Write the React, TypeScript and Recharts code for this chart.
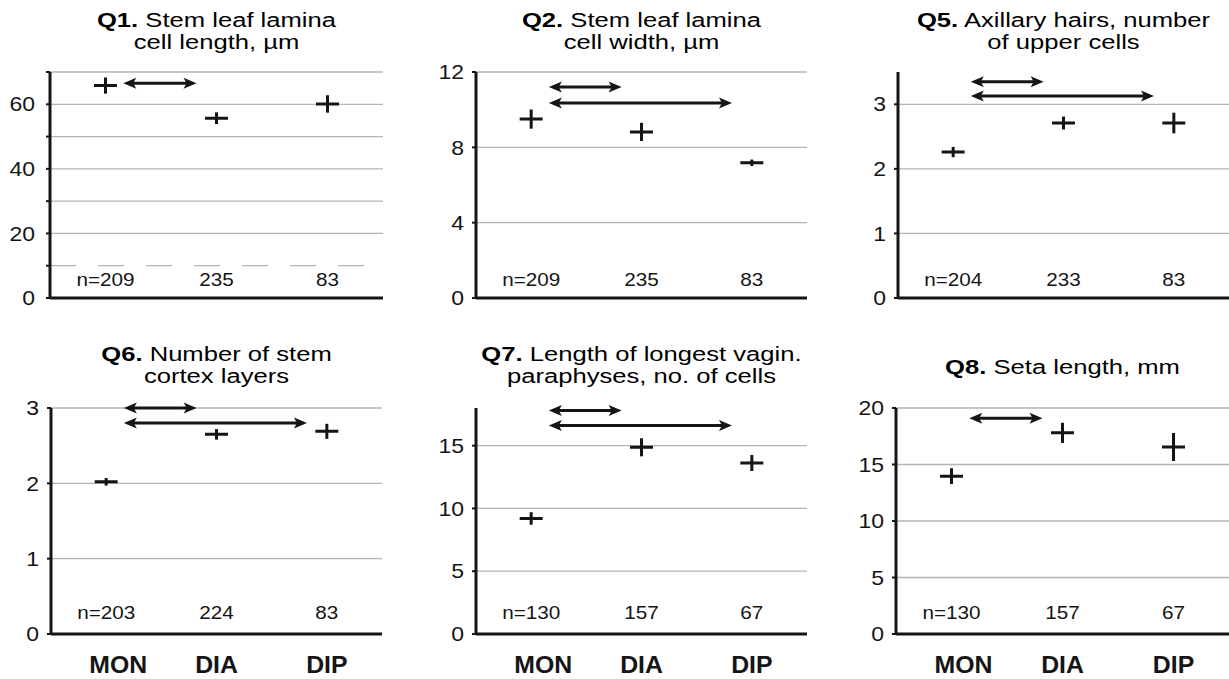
import {
  CartesianGrid,
  ErrorBar,
  ReferenceLine,
  Scatter,
  ScatterChart,
  XAxis,
  YAxis,
} from "recharts";

const FONT = '"Liberation Sans", Arial, Helvetica, sans-serif';
const INK = "#151515";
const GRID = "#b5b5b5";

// groups on the x axis, placed at 1, 2, 3
const groups = ["MON", "DIA", "DIP"];
const groupPos = [1, 2, 3];

type Arrow = { from: number; to: number; y: number };

// Q1 stem leaf lamina cell length
const q1Means = [65.8, 55.7, 60.1];
const q1Ci = [2.5, 1.8, 2.7];
const q1N = ["n=209", "235", "83"];
const q1Arrows: Arrow[] = [{ from: 0, to: 1, y: 66.5 }];
const q1Ticks = [0, 10, 20, 30, 40, 50, 60, 70];
const q1Labels = [0, 20, 40, 60];
const q1Grid = [20, 30, 40, 50, 60, 70];
const q1Dashed = [10];

// Q2 stem leaf lamina cell width
const q2Means = [9.5, 8.82, 7.18];
const q2Ci = [0.51, 0.48, 0.17];
const q2N = ["n=209", "235", "83"];
const q2Arrows: Arrow[] = [
  { from: 0, to: 1, y: 11.2 },
  { from: 0, to: 2, y: 10.35 },
];
const q2Ticks = [0, 4, 8, 12];
const q2Grid = [4, 8, 12];

// Q5 axillary hairs, number of upper cells
const q5Means = [2.26, 2.71, 2.71];
const q5Ci = [0.08, 0.1, 0.16];
const q5N = ["n=204", "233", "83"];
const q5Arrows: Arrow[] = [
  { from: 0, to: 1, y: 3.35 },
  { from: 0, to: 2, y: 3.13 },
];
const q5Ticks = [0, 1, 2, 3];
const q5Grid = [1, 2, 3];

// Q6 number of stem cortex layers
const q6Means = [2.02, 2.65, 2.69];
const q6Ci = [0.05, 0.07, 0.1];
const q6N = ["n=203", "224", "83"];
const q6Arrows: Arrow[] = [
  { from: 0, to: 1, y: 3.0 },
  { from: 0, to: 2, y: 2.8 },
];
const q6Ticks = [0, 1, 2, 3];
const q6Grid = [1, 2, 3];

// Q7 length of longest vaginula paraphyses
const q7Means = [9.2, 14.87, 13.62];
const q7Ci = [0.5, 0.72, 0.64];
const q7N = ["n=130", "157", "67"];
const q7Arrows: Arrow[] = [
  { from: 0, to: 1, y: 17.8 },
  { from: 0, to: 2, y: 16.6 },
];
const q7Ticks = [0, 5, 10, 15];
const q7Grid = [5, 10, 15];

// Q8 seta length
const q8Means = [13.97, 17.8, 16.55];
const q8Ci = [0.7, 0.89, 1.24];
const q8N = ["n=130", "157", "67"];
const q8Arrows: Arrow[] = [{ from: 0, to: 1, y: 19.1 }];
const q8Ticks = [0, 5, 10, 15, 20];
const q8Grid = [5, 10, 15, 20];

const Y_AXIS_W = 50;
const PLOT_H = 226;

function arrowShape(p: any) {
  const { x1, y1, x2, y2 } = p;
  const hl = 13;
  const hw = 5.5;
  return (
    <g>
      <line x1={x1 + 6} y1={y1} x2={x2 - 6} y2={y2} stroke={INK} strokeWidth={3} />
      <polygon
        points={`${x1},${y1} ${x1 + hl},${y1 - hw} ${x1 + hl - 3},${y1} ${x1 + hl},${y1 + hw}`}
        fill={INK}
      />
      <polygon
        points={`${x2},${y2} ${x2 - hl},${y2 - hw} ${x2 - hl + 3},${y2} ${x2 - hl},${y2 + hw}`}
        fill={INK}
      />
    </g>
  );
}

function crossBar(p: any) {
  return (
    <line
      x1={p.cx - 11.5}
      x2={p.cx + 11.5}
      y1={p.cy}
      y2={p.cy}
      stroke={INK}
      strokeWidth={3}
    />
  );
}

type PanelProps = {
  head: string;
  lines: string[];
  left: number;
  top: number;
  right: number;
  titleTop: number;
  means: number[];
  ci: number[];
  nLabels: string[];
  arrows: Arrow[];
  domain: [number, number];
  ticks: number[];
  labels?: number[];
  grid: number[];
  dashed?: number[];
  bottomRow: boolean;
  labelGap?: number;
};

function Panel(props: PanelProps) {
  const {
    head,
    lines,
    left,
    top,
    right,
    titleTop,
    means,
    ci,
    nLabels,
    arrows,
    domain,
    ticks,
    labels = ticks,
    grid,
    dashed = [],
    bottomRow,
    labelGap = 8,
  } = props;
  const data = groupPos.map((x, i) => ({ x, y: means[i], ci: ci[i] }));
  const xh = bottomRow ? 45 : 18;
  const nLift = bottomRow ? 15 : 12;
  const width = Y_AXIS_W + (right - left);
  const height = 10 + PLOT_H + xh;

  const xTick = (p: any) => {
    const i = groupPos.indexOf(p.payload.value);
    return (
      <g>
        <text
          transform={`translate(${p.x},${p.y - nLift}) scale(1.15,1)`}
          textAnchor="middle"
          fontSize={18}
          fill={INK}
          fontFamily={FONT}
        >
          {nLabels[i]}
        </text>
        {bottomRow && (
          <text
            transform={`translate(${p.x + (i === 0 ? 12 : 0)},${p.y + 39}) scale(1.08,1)`}
            textAnchor="middle"
            fontSize={23}
            fontWeight="bold"
            fill={INK}
            fontFamily={FONT}
          >
            {groups[i]}
          </text>
        )}
      </g>
    );
  };

  const yTick = (p: any) =>
    labels.includes(p.payload.value) ? (
      <text
        transform={`translate(${p.x},${p.y}) scale(1.15,1)`}
        textAnchor="end"
        dy="0.36em"
        fontSize={20}
        fill={INK}
        fontFamily={FONT}
      >
        {p.payload.value}
      </text>
    ) : (
      <g />
    );

  return (
    <>
      <div style={{ position: "absolute", left: left - Y_AXIS_W, top: top - 10 }}>
        <ScatterChart
          width={width}
          height={height}
          margin={{ top: 10, right: 0, bottom: 0, left: 0 }}
        >
          <CartesianGrid
            vertical={false}
            horizontalValues={grid}
            stroke={GRID}
            strokeWidth={1.3}
          />
          {dashed.map((v) => (
            <ReferenceLine
              key={`d${v}`}
              y={v}
              stroke={GRID}
              strokeWidth={1.3}
              strokeDasharray="26 22"
            />
          ))}
          <XAxis
            type="number"
            dataKey="x"
            domain={[0.5, 3.5]}
            ticks={groupPos}
            interval={0}
            tickSize={0}
            tickMargin={0}
            tickLine={false}
            axisLine={{ stroke: INK, strokeWidth: 3 }}
            tick={xTick}
            height={xh}
          />
          <YAxis
            type="number"
            dataKey="y"
            domain={domain}
            allowDataOverflow
            ticks={ticks}
            interval={0}
            tickSize={4}
            tickMargin={labelGap}
            tickLine={{ stroke: INK, strokeWidth: 2 }}
            axisLine={{ stroke: INK, strokeWidth: 3 }}
            tick={yTick}
            width={Y_AXIS_W}
          />
          {arrows.map((a, k) => (
            <ReferenceLine
              key={`a${k}`}
              segment={[
                { x: groupPos[a.from] + 0.16, y: a.y },
                { x: groupPos[a.to] - 0.18, y: a.y },
              ]}
              shape={arrowShape}
            />
          ))}
          <Scatter data={data} shape={crossBar} isAnimationActive={false}>
            <ErrorBar
              dataKey="ci"
              direction="y"
              width={0}
              stroke={INK}
              strokeWidth={3}
              isAnimationActive={false}
            />
          </Scatter>
        </ScatterChart>
      </div>
      <div
        style={{
          position: "absolute",
          left,
          top: titleTop,
          width: right - left,
          textAlign: "center",
          fontFamily: FONT,
          fontSize: 20,
          lineHeight: "21.5px",
          color: "#000",
          transform: "scaleX(1.28)",
          transformOrigin: "center",
          whiteSpace: "nowrap",
        }}
      >
        <b>{head}</b> {lines[0]}
        {lines[1] && (
          <>
            <br />
            {lines[1]}
          </>
        )}
      </div>
    </>
  );
}

export default function App() {
  return (
    <div
      style={{
        position: "absolute",
        left: 0,
        top: 0,
        width: 1229,
        height: 679,
        overflow: "hidden",
        background: "#fff",
      }}
    >
      <Panel
        head="Q1."
        lines={["Stem leaf lamina", "cell length, µm"]}
        left={50}
        top={72}
        right={383}
        titleTop={10}
        means={q1Means}
        ci={q1Ci}
        nLabels={q1N}
        arrows={q1Arrows}
        domain={[0, 70]}
        ticks={q1Ticks}
        labels={q1Labels}
        grid={q1Grid}
        dashed={q1Dashed}
        bottomRow={false}
        labelGap={11}
      />
      <Panel
        head="Q2."
        lines={["Stem leaf lamina", "cell width, µm"]}
        left={476}
        top={72}
        right={807}
        titleTop={10}
        means={q2Means}
        ci={q2Ci}
        nLabels={q2N}
        arrows={q2Arrows}
        domain={[0, 12]}
        ticks={q2Ticks}
        grid={q2Grid}
        bottomRow={false}
      />
      <Panel
        head="Q5."
        lines={["Axillary hairs, number", "of upper cells"]}
        left={898}
        top={72}
        right={1229}
        titleTop={10}
        means={q5Means}
        ci={q5Ci}
        nLabels={q5N}
        arrows={q5Arrows}
        domain={[0, 3.5]}
        ticks={q5Ticks}
        grid={q5Grid}
        bottomRow={false}
      />
      <Panel
        head="Q6."
        lines={["Number of stem", "cortex layers"]}
        left={51}
        top={408}
        right={382}
        titleTop={344}
        means={q6Means}
        ci={q6Ci}
        nLabels={q6N}
        arrows={q6Arrows}
        domain={[0, 3]}
        ticks={q6Ticks}
        grid={q6Grid}
        bottomRow
      />
      <Panel
        head="Q7."
        lines={["Length of longest vagin.", "paraphyses, no. of cells"]}
        left={476}
        top={408}
        right={807}
        titleTop={344}
        means={q7Means}
        ci={q7Ci}
        nLabels={q7N}
        arrows={q7Arrows}
        domain={[0, 18]}
        ticks={q7Ticks}
        grid={q7Grid}
        bottomRow
      />
      <Panel
        head="Q8."
        lines={["Seta length, mm"]}
        left={896}
        top={408}
        right={1229}
        titleTop={357}
        means={q8Means}
        ci={q8Ci}
        nLabels={q8N}
        arrows={q8Arrows}
        domain={[0, 20]}
        ticks={q8Ticks}
        grid={q8Grid}
        bottomRow
      />
    </div>
  );
}
